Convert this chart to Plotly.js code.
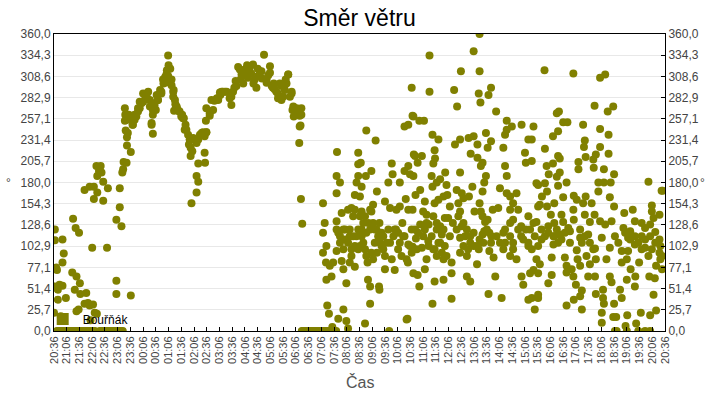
<!DOCTYPE html>
<html>
<head>
<meta charset="utf-8">
<script src="https://cdn.plot.ly/plotly-3.0.1.min.js"></script>
<style>html,body{margin:0;padding:0;background:#fff;}#chart{width:720px;height:400px;}</style>
</head>
<body>
<div id="chart"></div>
<script>
// ---- DATA (x = minutes after 20:36, y = wind direction in degrees) ----
const timeLabels = ["20:36","21:06","21:36","22:06","22:36","23:06","23:36","00:06","00:36","01:06","01:36","02:06","02:36","03:06","03:36","04:06","04:36","05:06","05:36","06:06","06:36","07:06","07:36","08:06","08:36","09:06","09:36","10:06","10:36","11:06","11:36","12:06","12:36","13:06","13:36","14:06","14:36","15:06","15:36","16:06","16:36","17:06","17:36","18:06","18:36","19:06","19:36","20:06","20:36"];
const dirLabels = ["0,0","25,7","51,4","77,1","102,9","128,6","154,3","180,0","205,7","231,4","257,1","282,9","308,6","334,3","360,0"];

const eveningMin = [2,2,0,7,9,9,2,20,23,20,20,53,45,51,59,43,53,61,49,62,72,84,92,101,86,90,125,72,84,94,102,94,116,127,116,100,110,112,102,106,147,155,155,159,147,147,181,4,13,5,16,28,58,76,80,96];
const eveningDir = [123,110,22,74,50,38,54,111,94,83,55,24,136,125,119,71,66,58,50,45,33,31,32,21,13,101,101,171,175,175,168,160,158,173,181,200,200,192,188,194,135,150,173,127,61,45,43,53,56,77,18,40,26,46,34,22];

const calmMin = [7,10,13,16,19,22,25,28,31,34,37,40,43,46,49,52,57,60,63,66,69,72,75,78,81,84,87,90,93,96,108,111,114,117,120,123,126,129,132,135,138,141,144,147,150,153,156,159,162,584,587,590,593,596,599,602,605,608,611,614,617,620,623,626,629,632,635,638,641,644,647,650,653,656,659,662,665,790,1322,1326,1350,1377,1393,1405];
const calmDir = [0,0,0,0,0,0,0,0,0,0,0,0,0,0,0,0,0,0,0,0,0,0,0,0,0,0,0,0,0,0,0,0,0,0,0,0,0,0,0,0,0,0,0,0,0,0,0,0,0,0,0,0,0,0,0,0,0,0,0,0,0,0,0,0,0,0,0,0,0,0,0,0,0,0,0,0,0,0,0,0,0,0,0,0];

const nightMin = [161,164,171,163,172,181,172,169,167,167,179,185,190,198,202,210,218,226,233,230,233,240,245,253,257,265,269,273,281,283,277,282,285,289,295,300,306,308,316,320,322,322,340,332,344,351,359,358,367,359,371,381,391,403,414,418,422,428,434,442,450,457,461,469,477,481,489,495,501,509,513,520,528,536,540,546,552,556,562,565,560,572,579,583,581,578,582,585,
172,186,194,202,210,218,226,233,230,237,245,253,261,269,277,281,289,296,304,312,320,328,340,348,359,367,375,387,395,407,418,430,438,450,461,473,485,501,509,516,528,536,544,552,560,564,572,583,579,
440,446,452,455,465,470,480,490,505,518,524,532,548,415,425,398,384,378,392,350,355,336,326,318,310,302,292,286,274,270,266,262,258,250,242,236,222,214,206,198,190,182,176,174,168];
const nightDir = [192,205,204,196,225,217,235,243,255,270,261,250,262,270,278,288,284,272,262,250,239,268,280,290,305,311,334,301,290,267,305,292,280,271,266,260,258,244,238,232,222,212,203,232,238,241,241,255,261,270,280,280,289,290,282,274,290,303,320,311,317,307,320,323,295,309,315,335,305,321,297,293,282,297,284,305,311,284,268,260,290,270,261,270,249,228,160,130,
256,250,260,270,278,284,280,268,252,274,280,288,301,309,298,284,272,266,258,244,232,234,232,240,241,264,268,280,290,290,284,297,317,313,319,305,315,301,313,295,288,280,292,311,288,272,266,262,248,
305,300,310,322,312,300,318,306,310,300,290,300,300,288,295,290,282,279,286,238,236,228,218,226,250,262,268,275,318,322,316,308,300,292,286,276,290,286,276,266,256,258,262,240,262];

const dayMin = [634,638,634,642,634,641,642,650,654,658,644,648,656,666,674,666,667,678,666,670,682,674,686,666,678,682,689,682,670,689,693,693,701,705,697,705,701,709,697,709,713,717,725,709,721,717,717,723,721,725,729,725,721,729,736,733,735,736,739,740,745,745,733,748,748,752,752,758,761,760,756,761,766,767,767,772,776,772,780,780,780,788,792,796,798,788,792,796,803,800,806,807,815,811,819,815,821,826,826,826,835,829,835,835,839,834,833,835,843,845,848,847,831,
847,861,872,885,885,892,906,851,857,867,847,863,852,874,845,870,878,851,863,878,883,853,870,882,845,867,883,878,874,857,861,892,894,897,898,890,892,902,897,906,894,902,906,897,902,914,918,914,918,910,922,925,918,927,933,929,940,933,937,937,918,897,937,945,943,950,959,957,957,949,961,965,953,953,949,961,957,969,965,973,957,973,981,977,989,989,1003,1003,1001,1005,1024,1030,1042,982,998,998,1010,1006,1018,1022,1030,1018,1014,1010,986,978,1003,1006,991,1010,1022,1016,989,981,997,1003,1014,997,1010,1026,1030,1026,1036,1040,1024,1055,1051,1047,1059,1063,1067,1067,1079,1102,1063,1067,1067,1075,1082,1090,1094,1082,1101,1075,1059,1063,1059,1082,1075,1090,1101,1112,1118,1110,1112,1118,1130,1126,1126,1102,1106,1118,1126,1133,1122,1130,1118,1130,1133,1126,1137,1141,1141,
1156,1224,1287,1299,1274,1305,1318,1185,1190,1200,1210,1247,1287,1307,1176,1188,1251,1249,1287,1157,1277,1307,1188,1192,1236,1253,1271,1176,1161,1236,1272,1296,1166,1192,1185,1320,1137,1157,1188,1208,1283,1296,1312,1401,1432,1435,1162,1283,1150,1200,1225,1253,1310,1145,1162,1179,1232,1247,1267,1320,1409,1224,1409,1344,1364,1171,1196,1251,1274,1427,1225,1413,1137,1179,1200,1263,1287,1314,1369,1385,1405,1149,1165,1212,1216,1299,1342,1358,1393,1417,1157,1179,1192,1240,1259,1291,1322,1353,1385,1427,1141,1177,1216,1244,1275,1310,1330,1369,1393,1409,1429,1338,1353,1173,1204,1232,1234,1255,1277,1302,1350,1401,1433,1145,1208,1220,1240,1263,1338,1379,1419,1433,1141,1173,1208,1224,1259,1275,1310,1359,1370,1403,1416,1230,1314,1350,1369,1165,1244,1294,1334,1277,1141,1141,1240,1413,1338,1294,1225,1208,1296,1320,1244,1419,1291,1383,1405,1318,1325,1351,1291,1372,1347,
336,340,336,324,355,356];
const dayDir = [155,131,119,103,95,83,62,79,66,83,31,21,5,188,180,167,217,143,133,119,123,107,111,97,85,75,58,26,15,12,3,147,149,139,123,115,99,103,83,78,180,188,175,165,163,216,202,204,139,145,131,115,103,107,119,139,188,243,83,62,54,33,9,194,145,153,131,231,169,123,107,95,54,50,131,119,115,103,91,75,157,180,149,203,190,123,107,87,74,115,123,147,151,99,91,180,131,115,194,248,250,160,147,200,190,83,15,105,295,261,214,70,14,
260,255,255,334,290,238,232,212,204,212,188,171,165,157,147,145,141,123,129,131,129,112,115,109,102,101,103,87,75,68,54,33,203,219,209,188,175,180,155,159,139,131,107,99,91,95,87,117,123,184,192,177,163,165,151,137,131,115,83,70,62,60,39,226,292,272,315,232,192,171,167,161,155,139,123,127,113,115,103,91,95,66,60,234,236,339,360,315,288,277,286,295,266,215,226,210,204,200,240,222,230,188,180,169,175,163,155,145,145,139,135,132,119,107,103,111,121,81,117,119,107,97,89,66,45,40,173,149,222,238,244,255,248,250,200,188,167,163,155,167,147,135,127,131,119,107,99,99,91,87,115,123,107,216,204,232,248,232,206,66,56,38,40,26,70,74,139,131,115,99,87,177,151,
316,312,307,311,273,266,272,264,266,253,253,250,245,238,236,242,231,223,223,221,214,215,212,209,205,211,208,203,200,196,198,196,190,192,187,190,179,179,176,180,180,180,180,181,170,170,169,169,163,162,164,163,162,153,151,155,159,155,155,151,152,147,145,143,147,141,141,141,141,141,135,137,132,131,132,132,133,133,133,131,129,123,127,125,121,129,125,121,125,120,115,115,117,113,117,113,115,113,115,111,103,105,107,107,100,101,107,105,101,99,103,97,97,89,89,98,87,91,87,87,87,91,91,81,79,75,79,81,83,83,79,75,70,68,71,66,66,66,66,75,66,66,64,56,59,62,54,58,49,50,50,45,44,40,42,44,40,40,38,31,33,33,26,25,22,22,19,17,17,19,10,9,6,
188,181,168,155,216,204];

const denseMin = [751,756,764,768,776,784,803,811,815,823,831,839,843,745,741,752,748,666,674,682,686,693,697,701,713,717,717,725,733,736,709,745,
843,858,874,890,902,910,921,925,855,894,910,921,965,973,981,976,989,1001,1012,1020,1031,1043,1051,1063,1075,1082,1094,1106,1118,1122,957,1034,1075,
1149,1165,1177,1185,1188,1196,1204,1240,1251,1263,1271,1346,1358,1369,1377,1385,1393,1405,1417,1427,1429];
const denseDir = [129,123,115,107,99,107,123,119,107,115,87,103,95,123,131,87,95,123,115,99,123,107,115,91,115,99,123,123,99,91,147,147,
123,119,123,115,123,107,103,91,99,99,127,137,131,123,115,99,103,99,107,123,115,115,107,123,115,107,123,111,103,123,145,147,147,
111,119,115,123,107,111,119,123,115,107,99,119,111,115,107,99,111,115,107,95,87];

// ---- CHART ----
const allMin = eveningMin.concat(calmMin, nightMin, dayMin, denseMin);
const allDir = eveningDir.concat(calmDir, nightDir, dayDir, denseDir);
const olive = '#808000';
const fam = 'Liberation Sans, Arial, sans-serif';
const tickFont = {family: fam, size: 12, color: '#444'};

const traces = [
  {x: allMin, y: allDir, type: 'scatter', mode: 'markers', showlegend: false,
   marker: {color: olive, size: 8}, hoverinfo: 'x+y'},
  // legend entry (square symbol), sits on the first calm reading under the circles
  {x: calmMin.slice(0, 1), y: calmDir.slice(0, 1), type: 'scatter', mode: 'markers', name: 'Bouřňák',
   marker: {color: olive, size: 1, symbol: 'square'}},
  {x: calmMin.slice(0, 1), y: calmDir.slice(0, 1), type: 'scatter', mode: 'markers', yaxis: 'y2',
   showlegend: false, marker: {color: olive, size: 1}}
];

const yTickVals = dirLabels.map((_, i) => i * 360 / 14);
const xTickVals = timeLabels.map((_, i) => i * 30);

const layout = {
  width: 720, height: 400,
  margin: {l: 54, r: 55, t: 34, b: 69, pad: 0},
  paper_bgcolor: '#fff', plot_bgcolor: '#fff',
  font: {family: fam, color: '#444'},
  title: {text: 'Směr větru', font: {size: 23, color: '#000', family: fam},
          x: 0.5, xref: 'paper', y: 0.955, yref: 'container', yanchor: 'middle'},
  showlegend: true,
  legend: {x: -0.0185, xanchor: 'left', y: 0.04, yanchor: 'middle', bgcolor: 'rgba(0,0,0,0)',
           itemsizing: 'constant', font: {size: 12, color: '#000', family: fam}, borderwidth: 0},
  xaxis: {range: [0, 1440], tickmode: 'array', tickvals: xTickVals, ticktext: timeLabels,
          tickangle: -90, tickfont: {family: fam, size: 11, color: '#444'},
          ticks: 'inside', ticklen: 4, tickcolor: '#000', showline: true, linecolor: '#000', linewidth: 1,
          mirror: true, showgrid: false, zeroline: false, fixedrange: true},
  yaxis: {range: [0, 360], tickmode: 'array', tickvals: yTickVals, ticktext: dirLabels, tickfont: tickFont,
          ticks: '', showline: true, linecolor: '#000', linewidth: 1, showgrid: true, gridcolor: '#e8e8e8',
          zeroline: false, fixedrange: true},
  yaxis2: {range: [0, 360], overlaying: 'y', side: 'right', anchor: 'x', tickmode: 'array', tickvals: yTickVals,
           ticktext: dirLabels, tickfont: tickFont, ticks: 'inside', ticklen: 4, tickcolor: '#000',
           showline: true, linecolor: '#000', linewidth: 1, showgrid: false, zeroline: false, fixedrange: true},
  annotations: [
    {text: 'Čas', xref: 'paper', yref: 'paper', x: 0.5, y: -0.173, yanchor: 'middle', showarrow: false,
     font: {size: 16, color: '#555', family: fam}},
    {text: '°', xref: 'paper', yref: 'paper', x: -0.0824, y: 0.5, yanchor: 'middle', showarrow: false,
     font: {size: 12, color: '#444', family: fam}},
    {text: '°', xref: 'paper', yref: 'paper', x: 1.069, y: 0.5, yanchor: 'middle', showarrow: false,
     font: {size: 12, color: '#444', family: fam}}
  ]
};

Plotly.newPlot('chart', traces, layout, {displayModeBar: false, staticPlot: true});
</script>
</body>
</html>
